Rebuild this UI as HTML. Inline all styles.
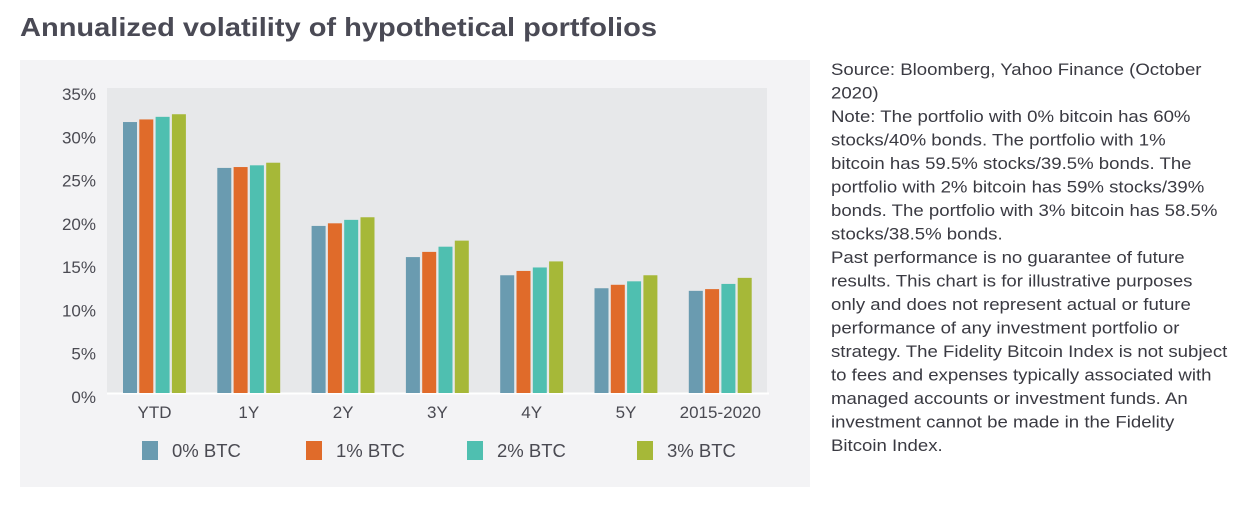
<!DOCTYPE html>
<html><head><meta charset="utf-8"><style>
body{margin:0;width:1247px;height:507px;background:#fff;overflow:hidden;font-family:"Liberation Sans",sans-serif}
svg{display:block}
</style></head><body>
<svg width="1247" height="507">
<text x="20" y="36" font-size="26" font-weight="bold" fill="#4a4a55" textLength="637" lengthAdjust="spacingAndGlyphs">Annualized volatility of hypothetical portfolios</text>
<rect x="20" y="60" width="790" height="427" fill="#f3f3f5"/>
<rect x="107" y="88" width="660" height="305" fill="#e7e8ea"/>
<line x1="107" y1="393.5" x2="769" y2="393.5" stroke="#fff" stroke-width="2"/>
<g id="yaxis"></g>
<g id="bars"></g>
<g id="xaxis"></g>
<g id="legend"></g>
<g transform="translate(831,0) scale(1.095,1) translate(-831,0)">
<text font-size="17" fill="#3a3a42">
<tspan x="831" y="75">Source: Bloomberg, Yahoo Finance (October</tspan>
<tspan x="831" y="98.5">2020)</tspan>
<tspan x="831" y="122">Note: The portfolio with 0% bitcoin has 60%</tspan>
<tspan x="831" y="145.5">stocks/40% bonds. The portfolio with 1%</tspan>
<tspan x="831" y="169">bitcoin has 59.5% stocks/39.5% bonds. The</tspan>
<tspan x="831" y="192.5">portfolio with 2% bitcoin has 59% stocks/39%</tspan>
<tspan x="831" y="216">bonds. The portfolio with 3% bitcoin has 58.5%</tspan>
<tspan x="831" y="239.5">stocks/38.5% bonds.</tspan>
<tspan x="831" y="263">Past performance is no guarantee of future</tspan>
<tspan x="831" y="286.5">results. This chart is for illustrative purposes</tspan>
<tspan x="831" y="310">only and does not represent actual or future</tspan>
<tspan x="831" y="333.5">performance of any investment portfolio or</tspan>
<tspan x="831" y="357">strategy. The Fidelity Bitcoin Index is not subject</tspan>
<tspan x="831" y="380.5">to fees and expenses typically associated with</tspan>
<tspan x="831" y="404">managed accounts or investment funds. An</tspan>
<tspan x="831" y="427.5">investment cannot be made in the Fidelity</tspan>
<tspan x="831" y="451">Bitcoin Index.</tspan>
</text>
</g>
</svg>
<script>
const categories=["YTD","1Y","2Y","3Y","4Y","5Y","2015-2020"];
const seriesNames=["0% BTC","1% BTC","2% BTC","3% BTC"];
const btc0=[31.3,26.0,19.3,15.7,13.6,12.1,11.8];
const btc1=[31.6,26.1,19.6,16.3,14.1,12.5,12.0];
const btc2=[31.9,26.3,20.0,16.9,14.5,12.9,12.6];
const btc3=[32.2,26.6,20.3,17.6,15.2,13.6,13.3];
const yTicks=[0,5,10,15,20,25,30,35];
const colors=["#6a9bb0","#e06b2a","#4fbfb0","#a6b838"];
const NS="http://www.w3.org/2000/svg";
const y0=393,yTop=90,yMax=35;
function y(v){return y0-(y0-yTop)*v/yMax;}
function gx(i){return 123+i*94.3;}
function mk(t,a,p){const e=document.createElementNS(NS,t);for(const k in a)e.setAttribute(k,a[k]);p.appendChild(e);return e;}
const ya=document.getElementById('yaxis');
yTicks.forEach(t=>{const e=mk('text',{x:96,y:y(t)+10,'text-anchor':'end','font-size':17,fill:'#4a4a52'},ya);


e.textContent=t+'%';});
const bars=document.getElementById('bars');
const series=[btc0,btc1,btc2,btc3];
series.forEach((s,si)=>s.forEach((v,i)=>{const r=mk('rect',{x:gx(i)+si*16.3,y:y(v),width:14,height:y0-y(v),fill:colors[si]},bars);

}));
const xa=document.getElementById('xaxis');
categories.forEach((c,i)=>{const e=mk('text',{x:gx(i)+31.5,y:418,'text-anchor':'middle','font-size':17,fill:'#4a4a52'},xa);


e.textContent=c;});
const lg=document.getElementById('legend');
const lx=[142,306,467,637];
seriesNames.forEach((n,i)=>{const g=mk('g',{},lg);


mk('rect',{x:lx[i],y:441,width:16,height:19,fill:colors[i]},g);
const t=mk('text',{x:lx[i]+30,y:457,'font-size':18.5,fill:'#4a4a52'},g);t.textContent=n;});
</script>
</body></html>
